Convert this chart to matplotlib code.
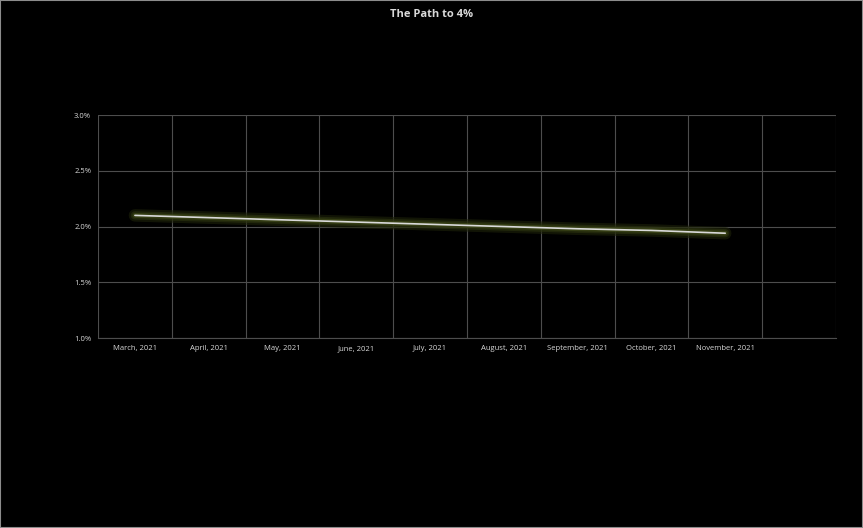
import matplotlib
matplotlib.use("Agg")
import matplotlib.pyplot as plt
import matplotlib.patheffects as pe
import numpy as np

categories = ["March, 2021", "April, 2021", "May, 2021", "June, 2021", "July, 2021",
              "August, 2021", "September, 2021", "October, 2021", "November, 2021", ""]
values = [2.10, 2.08, 2.06, 2.04, 2.02, 2.00, 1.98, 1.965, 1.94]
y_ticks = [1.0, 1.5, 2.0, 2.5, 3.0]
y_labels = ["1.0%", "1.5%", "2.0%", "2.5%", "3.0%"]
title = "The Path to 4%"

plt.rcParams['font.family'] = ['Open Sans', 'DejaVu Sans']

fig = plt.figure(figsize=(8.63, 5.28), dpi=100, facecolor="black")
fig.patches.append(plt.Rectangle((0, 0), 1, 1, transform=fig.transFigure,
                                 fill=False, edgecolor="#8c8c8c", linewidth=1.5))
ax = fig.add_axes([0.1136, 0.3598, 0.855, 0.4223])
ax.set_facecolor("black")

x = np.arange(len(values))
ax.plot(x, values, color="#d9d9d9", linewidth=1.2, solid_capstyle="round",
        path_effects=[pe.Stroke(linewidth=9, foreground="#1e230a", alpha=0.6),
                      pe.Stroke(linewidth=6, foreground="#2c3410", alpha=0.6),
                      pe.Stroke(linewidth=3.5, foreground="#3e4818", alpha=0.7),
                      pe.Normal()], zorder=3)

ax.set_xlim(-0.5, len(categories) - 0.5)
ax.set_ylim(1.0, 3.0)
ax.set_xticks(np.arange(len(categories)))
ax.set_xticklabels(categories, fontsize=5.5, color="#d9d9d9")
ax.set_xticks(np.arange(len(categories) + 1) - 0.5, minor=True)
ax.set_yticks(y_ticks)
ax.set_yticklabels(y_labels, fontsize=5.5, color="#d9d9d9")
ax.tick_params(axis="both", which="both", length=0, pad=5)
ax.grid(True, which="minor", axis="x", color="#4d4d4d", linewidth=0.8)
ax.grid(True, which="major", axis="y", color="#4d4d4d", linewidth=0.8)
ax.grid(False, which="major", axis="x")
for s in ax.spines.values():
    s.set_visible(False)
ax.spines["bottom"].set_visible(True)
ax.spines["bottom"].set_color("#4d4d4d")
ax.spines["bottom"].set_linewidth(0.8)

fig.text(0.5, 0.972, title, ha="center", va="center", fontsize=8,
         fontweight="bold", color="#d9d9d9")

fig.savefig("out.png", dpi=100, facecolor="black")
